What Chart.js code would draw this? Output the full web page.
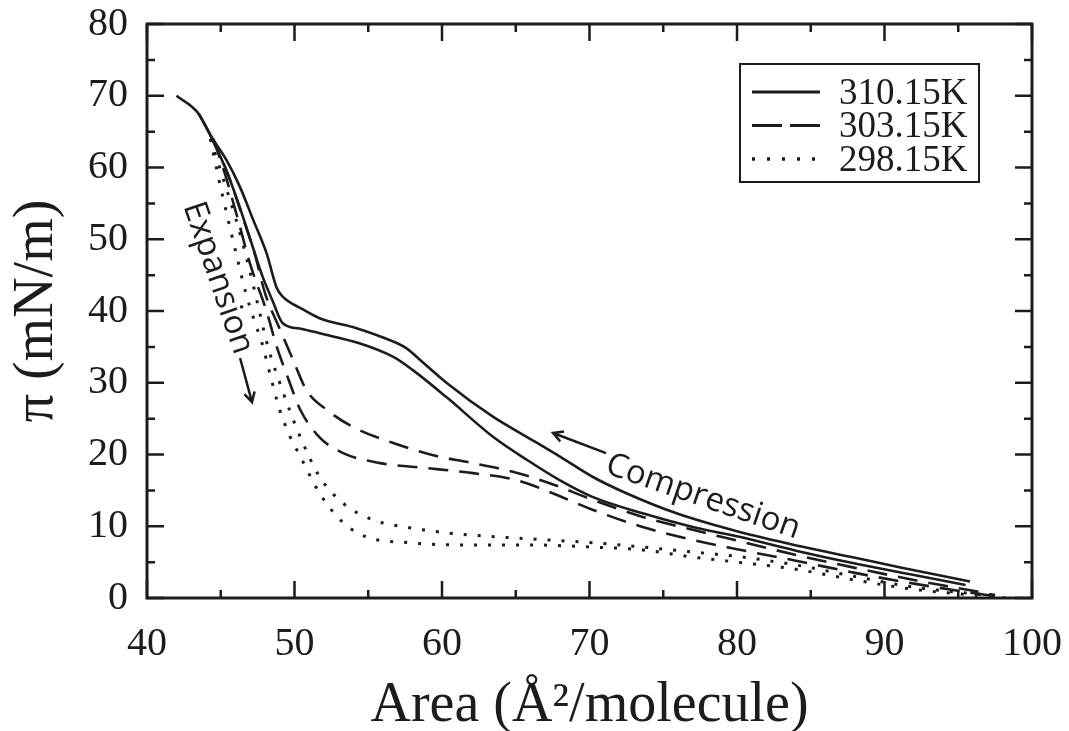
<!DOCTYPE html>
<html>
<head>
<meta charset="utf-8">
<title>Isotermas π-A</title>
<script src="https://cdn.jsdelivr.net/npm/chart.js@4/dist/chart.umd.min.js"></script>
<style>
  html, body { margin: 0; padding: 0; background: #fff; }
  #wrap { width: 1069px; height: 731px; }
</style>
</head>
<body>
<div id="wrap"><canvas id="graficoIsotermas"></canvas></div>
<script>
// --- Dados ---
const temperaturas = ['310.15K', '303.15K', '298.15K'];

// 310.15K (linha contínua)
const area310Comp = [42, 43.5, 44.3, 45.4, 46.3, 47.2, 48.1, 48.8, 49.2, 50.5, 51.7, 54.2, 56, 57.6, 58.5, 60.3, 63.5, 65.8, 68, 70.2, 72.5, 75.9, 80, 84.3, 88, 91, 95.8];
const pi310Comp   = [70, 67.5, 64.5, 61, 57.3, 52.7, 48.1, 43.2, 42, 40.3, 39, 37.6, 36.3, 34.8, 33.2, 30, 25.2, 22.4, 19.7, 16.9, 14.6, 11.8, 9.3, 7.2, 5.6, 4.3, 2.3];
const area310Exp  = [43.5, 44.3, 45.3, 46.2, 47, 47.8, 48.5, 49.2, 50.5, 51.7, 54.4, 56.7, 58, 60.3, 63.5, 65.8, 68, 70.2, 73.6, 77, 80, 84, 88, 92, 95.5];
const pi310Exp    = [67.5, 64.5, 60, 55, 50, 45, 41.5, 38.3, 37.5, 36.9, 35.5, 33.6, 31.8, 28, 22.4, 19.2, 16.4, 14.1, 11.8, 9.9, 8.6, 6.6, 4.8, 3.2, 1.8];

// 303.15K (tracejada)
const area303Comp = [44.3, 45.5, 46.5, 47.3, 48, 49, 49.9, 50.8, 52.2, 54, 56.7, 59.4, 62.1, 64.8, 67.3, 70.2, 73.6, 77, 80, 84, 88, 92, 96, 97.5];
const pi303Comp   = [64.5, 59, 53, 48, 42.5, 37.5, 33.2, 29, 26.2, 23.8, 21.6, 19.9, 18.8, 17.6, 16, 13.7, 11.3, 9.5, 8, 6, 4.2, 2.5, 1, 0.4];
const area303Exp  = [44.5, 45.3, 46.2, 47, 48.1, 48.8, 49.5, 50.4, 51.7, 53.3, 55.8, 59, 62.1, 65.1, 67.5, 70.2, 73.6, 77, 80, 84, 88, 92, 96, 97.8];
const pi303Exp    = [64, 59, 52.5, 46.5, 40, 35, 31, 26.2, 22.4, 20.2, 18.8, 18.1, 17.4, 16.4, 14.6, 12.3, 9.9, 8.1, 6.8, 5.2, 3.5, 2, 0.7, 0.2];

// 298.15K (pontilhada)
const area298Comp = [44.3, 45, 46, 46.8, 47.5, 48.2, 49, 49.7, 50.4, 51.7, 53.3, 55.3, 57.8, 60.7, 63.9, 67.1, 70.2, 73.6, 77, 80, 84, 88, 92, 96, 98];
const pi298Comp   = [64, 59.5, 53, 47, 41, 35, 30, 26, 22.4, 16.9, 13.2, 10.9, 9.8, 9, 8.5, 8.1, 7.7, 7.1, 6.4, 5.8, 4.6, 3, 1.5, 0.6, 0.2];
const area298Exp  = [44.3, 44.8, 45.3, 46.1, 46.7, 47.3, 47.8, 48.3, 49, 49.7, 50.4, 51.7, 53.3, 54.9, 57.8, 61.2, 65.8, 70.2, 73.6, 77, 80, 84, 88, 92, 96, 98.2];
const pi298Exp    = [64, 59, 54.5, 47.5, 42.5, 38.5, 35.5, 31.5, 26.2, 22.5, 19.7, 14.6, 10.5, 8.5, 7.7, 7.4, 7.4, 7.1, 6.7, 5.7, 5, 4, 2.5, 1.2, 0.4, 0];

// Eixos
const xMin = 40, xMax = 100, xPasso = 10;
const yMin = 0, yMax = 80, yPasso = 10;

// --- Estilos ---
const corTraco = '#1c1c1c';
const fonteSerif = "'Liberation Serif', 'Times New Roman', serif";
const fonteSans = "'Open Sans', 'Noto Sans', sans-serif";
const estilos = [
  { dash: [], largura: 2.6, dashLegenda: [] },
  { dash: [20, 11], largura: 2.6, dashLegenda: [30, 8] },
  { dash: [3, 11], largura: 3, dashLegenda: [3, 12] }
];

const pontos = (xs, ys) => xs.map((v, i) => ({ x: v, y: ys[i] }));

const curvas = [
  [area310Comp, pi310Comp, 0], [area310Exp, pi310Exp, 0],
  [area303Comp, pi303Comp, 1], [area303Exp, pi303Exp, 1],
  [area298Comp, pi298Comp, 2], [area298Exp, pi298Exp, 2]
];

const datasets = curvas.map(([xs, ys, t]) => ({
  label: temperaturas[t],
  data: pontos(xs, ys),
  showLine: true,
  borderColor: corTraco,
  borderWidth: estilos[t].largura,
  borderDash: estilos[t].dash,
  pointRadius: 0,
  cubicInterpolationMode: 'monotone',
  fill: false
}));

// --- Moldura com marcas para dentro (nos quatro lados) ---
const molduraPlugin = {
  id: 'moldura',
  afterDraw(chart) {
    const { ctx, chartArea: a, scales: { x, y } } = chart;
    ctx.save();
    ctx.strokeStyle = corTraco;
    ctx.lineWidth = 3;
    ctx.strokeRect(a.left, a.top, a.right - a.left, a.bottom - a.top);
    ctx.lineWidth = 2.5;
    ctx.beginPath();
    for (let v = xMin; v <= xMax; v += xPasso / 2) {
      const px = x.getPixelForValue(v);
      const len = v % xPasso === 0 ? 17 : 8;
      ctx.moveTo(px, a.bottom); ctx.lineTo(px, a.bottom - len);
      ctx.moveTo(px, a.top); ctx.lineTo(px, a.top + len);
    }
    for (let v = yMin; v <= yMax; v += yPasso / 2) {
      const py = y.getPixelForValue(v);
      const len = v % yPasso === 0 ? 17 : 8;
      ctx.moveTo(a.left, py); ctx.lineTo(a.left + len, py);
      ctx.moveTo(a.right, py); ctx.lineTo(a.right - len, py);
    }
    ctx.stroke();
    ctx.restore();
  }
};

// --- Legenda dentro do gráfico (canto superior direito) ---
const legendaPlugin = {
  id: 'legendaInterna',
  afterDraw(chart) {
    const { ctx, chartArea: a } = chart;
    const w = 239, h = 118;
    const x0 = a.right - 53 - w, y0 = a.top + 40;
    ctx.save();
    ctx.strokeStyle = corTraco;
    ctx.lineWidth = 2;
    ctx.strokeRect(x0, y0, w, h);
    ctx.font = '37px ' + fonteSerif;
    ctx.fillStyle = corTraco;
    ctx.textBaseline = 'middle';
    temperaturas.forEach((t, i) => {
      const ly = y0 + 28 + i * 33.5;
      ctx.beginPath();
      ctx.setLineDash(estilos[i].dashLegenda);
      ctx.lineWidth = estilos[i].largura + 0.6;
      ctx.moveTo(x0 + 12, ly);
      ctx.lineTo(x0 + 80, ly);
      ctx.stroke();
      ctx.setLineDash([]);
      ctx.fillText(t, x0 + 99, ly + 2);
    });
    ctx.restore();
  }
};

// --- Anotações (Expansion / Compression) com setas ---
const anotacoes = [
  { texto: 'Expansion', x: 44.81, y: 44.6, angulo: 71, setaDe: [46.31, 33.45], setaPara: [47.12, 27.3] },
  { texto: 'Compression', x: 77.7, y: 14.08, angulo: 19, setaDe: [71.12, 20.2], setaPara: [67.53, 23.0] }
];

const anotacaoPlugin = {
  id: 'anotacoes',
  afterDatasetsDraw(chart) {
    const { ctx, scales: { x, y } } = chart;
    ctx.save();
    ctx.fillStyle = corTraco;
    ctx.strokeStyle = corTraco;
    ctx.font = '33px ' + fonteSans;
    anotacoes.forEach(an => {
      ctx.save();
      ctx.translate(x.getPixelForValue(an.x), y.getPixelForValue(an.y));
      ctx.rotate(an.angulo * Math.PI / 180);
      ctx.textAlign = 'center';
      ctx.textBaseline = 'middle';
      ctx.fillText(an.texto, 0, 0);
      ctx.restore();

      const x1 = x.getPixelForValue(an.setaDe[0]), y1 = y.getPixelForValue(an.setaDe[1]);
      const x2 = x.getPixelForValue(an.setaPara[0]), y2 = y.getPixelForValue(an.setaPara[1]);
      const ang = Math.atan2(y2 - y1, x2 - x1);
      ctx.lineWidth = 2.5;
      ctx.beginPath();
      ctx.moveTo(x1, y1); ctx.lineTo(x2, y2);
      ctx.moveTo(x2 - 11 * Math.cos(ang - 0.5), y2 - 11 * Math.sin(ang - 0.5));
      ctx.lineTo(x2, y2);
      ctx.lineTo(x2 - 11 * Math.cos(ang + 0.5), y2 - 11 * Math.sin(ang + 0.5));
      ctx.stroke();
    });
    ctx.restore();
  }
};

// --- Configuração do Gráfico (Chart.js) ---
const ctx = document.getElementById('graficoIsotermas').getContext('2d');

new Chart(ctx, {
  type: 'scatter',
  data: { datasets },
  options: {
    responsive: true,
    maintainAspectRatio: false,
    animation: false,
    devicePixelRatio: 1,
    layout: { padding: { left: 0, top: 24, right: 37, bottom: 0 } },
    plugins: { legend: { display: false }, tooltip: { enabled: false } },
    scales: {
      x: {
        type: 'linear', min: xMin, max: xMax,
        ticks: { stepSize: xPasso, color: corTraco, padding: 22, font: { family: fonteSerif, size: 40 } },
        grid: { display: false, drawTicks: false },
        border: { display: false },
        title: { display: true, text: 'Area (Å²/molecule)', color: corTraco, padding: { top: 0, bottom: 0 }, font: { family: fonteSerif, size: 56, lineHeight: 0.9 } },
        afterFit(s) { s.height = 133; s.paddingLeft = 0; s.paddingRight = 0; }
      },
      y: {
        type: 'linear', min: yMin, max: yMax,
        ticks: { stepSize: yPasso, color: corTraco, padding: 19, font: { family: fonteSerif, size: 40 } },
        grid: { display: false, drawTicks: false },
        border: { display: false },
        title: { display: true, text: 'π (mN/m)', color: corTraco, padding: { top: 4, bottom: 0 }, font: { family: fonteSerif, size: 56, lineHeight: 1.2 } },
        afterFit(s) { s.width = 147; s.paddingTop = 0; s.paddingBottom = 0; }
      }
    }
  },
  plugins: [molduraPlugin, legendaPlugin, anotacaoPlugin]
});
</script>
</body>
</html>
